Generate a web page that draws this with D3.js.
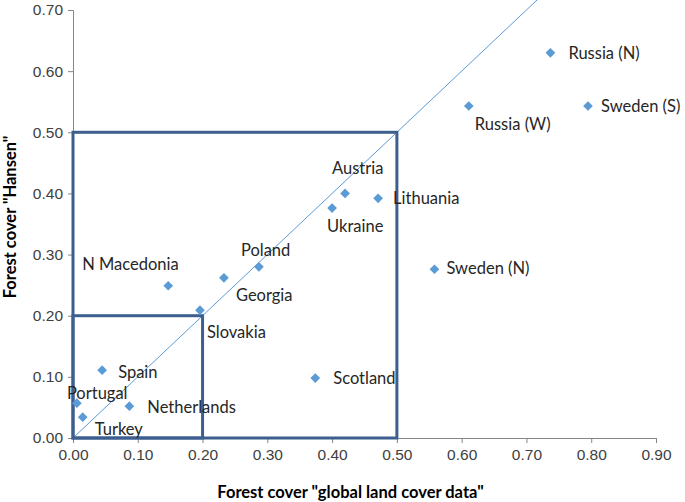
<!DOCTYPE html>
<html lang="en">
<head>
    <meta charset="UTF-8">
    <title>Forest cover comparison</title>
    <script src="https://d3js.org/d3.v7.min.js"></script>
    <style>
        body {
            margin: 0;
            font-family: Lato, "Open Sans", sans-serif;
            background: #fff;
        }
        .tick text {
            fill: #404040;
            font-size: 15.5px;
        }
        .pt-label {
            fill: #262626;
            font-size: 16.5px;
        }
        .axis-title {
            font-size: 16.5px;
            font-weight: bold;
            fill: #000;
        }
    </style>
</head>
<body>
    <svg width="685" height="502"></svg>

    <script>
        // data
        const regions = ["Russia (N)", "Russia (W)", "Sweden (S)", "Sweden (N)", "Austria", "Lithuania",
            "Ukraine", "Poland", "Georgia", "N Macedonia", "Slovakia", "Scotland", "Spain",
            "Netherlands", "Portugal", "Turkey"];
        const globalCover = [0.737, 0.611, 0.795, 0.558, 0.420, 0.471, 0.400, 0.287, 0.233, 0.147,
            0.196, 0.374, 0.045, 0.087, 0.006, 0.015];
        const hansenCover = [0.630, 0.543, 0.543, 0.276, 0.400, 0.392, 0.376, 0.280, 0.262, 0.249,
            0.209, 0.098, 0.111, 0.052, 0.057, 0.034];
        const xTicks = [0, 0.1, 0.2, 0.3, 0.4, 0.5, 0.6, 0.7, 0.8, 0.9];
        const yTicks = [0, 0.1, 0.2, 0.3, 0.4, 0.5, 0.6, 0.7];
        const boxes = [0.5, 0.2];

        // where each label sits relative to its point (pixels)
        const labelOffset = {
            "Russia (N)": [18, 0], "Russia (W)": [6, 18], "Sweden (S)": [13, 0], "Sweden (N)": [12, -1],
            "Austria": [-13, -25], "Lithuania": [15, 0], "Ukraine": [-5, 18], "Poland": [-18, -17],
            "Georgia": [12, 17], "N Macedonia": [-86, -22], "Slovakia": [7, 22], "Scotland": [18, 0],
            "Spain": [16, 2], "Netherlands": [18, 1], "Portugal": [-10, -10], "Turkey": [12, 12]
        };

        const data = regions.map((r, i) => ({ name: r, x: globalCover[i], y: hansenCover[i] }));

        const margin = { top: 10, left: 73 };
        const width = 583, height = 428;

        const svg = d3.select("svg")
            .append("g")
            .attr("transform", `translate(${margin.left},${margin.top})`);

        const x = d3.scaleLinear().domain([0, 0.9]).range([0, width]);
        const y = d3.scaleLinear().domain([0, 0.7]).range([height, 0]);

        // axes
        const xAxis = svg.append("g")
            .attr("transform", `translate(0,${height})`)
            .call(d3.axisBottom(x).tickValues(xTicks).tickFormat(d3.format(".2f")).tickSize(5).tickPadding(6));
        const yAxis = svg.append("g")
            .call(d3.axisLeft(y).tickValues(yTicks).tickFormat(d3.format(".2f")).tickSize(5).tickPadding(5));
        [xAxis, yAxis].forEach(a => {
            a.select(".domain").attr("stroke", "#868686");
            a.selectAll(".tick line").attr("stroke", "#868686");
        });

        // 1:1 line
        svg.append("line")
            .attr("x1", x(0)).attr("y1", y(0))
            .attr("x2", x(0.72)).attr("y2", y(0.72))
            .attr("stroke", "#5b9bd5")
            .attr("stroke-width", 1);

        // boxes
        svg.selectAll(".box")
            .data(boxes)
            .enter()
            .append("rect")
            .attr("class", "box")
            .attr("x", x(0))
            .attr("y", d => y(d))
            .attr("width", d => x(d) - x(0))
            .attr("height", d => y(0) - y(d))
            .attr("fill", "none")
            .attr("stroke", "#3d5f8f")
            .attr("stroke-width", 3);

        // points
        const diamond = d3.symbol().type(d3.symbolDiamond2).size(60);
        svg.selectAll(".pt")
            .data(data)
            .enter()
            .append("path")
            .attr("class", "pt")
            .attr("d", diamond)
            .attr("transform", d => `translate(${x(d.x)},${y(d.y)})`)
            .attr("fill", "#5b9bd5");

        svg.selectAll(".pt-label")
            .data(data)
            .enter()
            .append("text")
            .attr("class", "pt-label")
            .attr("x", d => x(d.x) + labelOffset[d.name][0])
            .attr("y", d => y(d.y) + labelOffset[d.name][1])
            .attr("dy", "0.35em")
            .text(d => d.name);

        // axis titles
        svg.append("text")
            .attr("class", "axis-title")
            .attr("x", width / 2 - 14)
            .attr("y", height + 60)
            .attr("text-anchor", "middle")
            .text('Forest cover "global land cover data"');

        svg.append("text")
            .attr("class", "axis-title")
            .attr("transform", `translate(${-57},${207}) rotate(-90)`)
            .attr("text-anchor", "middle")
            .text('Forest cover "Hansen"');
    </script>
</body>
</html>
